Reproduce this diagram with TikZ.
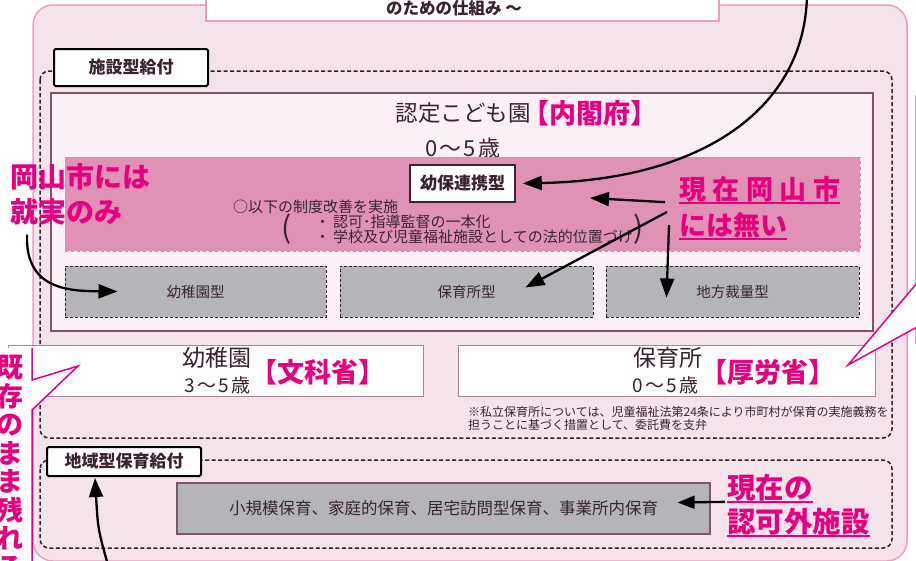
\documentclass[tikz,border=0pt]{standalone}
\usepackage{fontspec}
\setmainfont{Noto Sans CJK JP}
\usetikzlibrary{arrows.meta}

\definecolor{rosa}{HTML}{F39CC3}
\definecolor{rosabg}{HTML}{F5E3EC}
\definecolor{okpink}{HTML}{E6007F}
\definecolor{bandfill}{HTML}{E092B6}
\definecolor{bandline}{HTML}{EE7AAF}
\definecolor{boxgray}{HTML}{B5B5B9}
\definecolor{framedark}{HTML}{2E2228}
\definecolor{plum}{HTML}{7E5468}
\definecolor{innerbg}{HTML}{FBF0F5}
\definecolor{ink}{HTML}{3A2230}

\newcommand{\fsz}[1]{\fontsize{#1}{#1}\selectfont}

\begin{document}
\begin{tikzpicture}
		[x=1pt,y=-1pt,
		 txt/.style={inner sep=0pt,text=ink},
		 pinktxt/.style={inner sep=0pt,text=okpink,font=\bfseries\fsz{27}},
		 tag/.style={draw=black,line width=2pt,fill=white,inner sep=0pt,rounded corners=1.5pt,text=ink,font=\bfseries\fsz{17}},
		 dframe/.style={draw=framedark,line width=1.5pt,dash pattern=on 4pt off 2.5pt,rounded corners=9pt},
		 typ/.style={draw=framedark,line width=1pt,dash pattern=on 3pt off 2pt,fill=boxgray,inner sep=0pt,text=ink,font=\fsz{14.5}},
		 whitebox/.style={draw=plum!70,line width=1pt,fill=white,inner sep=0pt},
		 arr/.style={-{Triangle[length=19pt,width=14pt]},line width=2.3pt,black},
		 uline/.style={okpink,line width=1.8pt}]

		\useasboundingbox (0,0) rectangle (916,560);

		\draw[rosa,line width=1.5pt,fill=rosabg,rounded corners=20pt] (33,5) rectangle (907,561);

		\node[draw=rosa,line width=2pt,fill=white,minimum width=513pt,minimum height=40pt,inner sep=0pt] (titlebox) at (462,1) {};
		\node[txt,font=\bfseries\fsz{16.5},anchor=west] (titletext) at (386,8) {のための仕組み ～};

		\draw[rosa,fill=white,line width=1pt] (915,95) rectangle (940,343);

		\draw[dframe] (40,71) rectangle (892,438);
		\node[tag,minimum width=154pt,minimum height=37pt] (shisetsu) at (131,67.5) {施設型給付};

		\node[draw=plum,line width=1.2pt,fill=innerbg,minimum width=822pt,minimum height=238pt,inner sep=0pt] (nintei) at (462,212) {};
		\node[txt,font=\fsz{22.5},anchor=east] (ninteiname) at (531,113) {認定こども園};
		\node[pinktxt] (naikaku) at (590,113) {【内閣府】};
		\node[txt,font=\fsz{22}] (age05a) at (463,148) {0\kern2pt～\kern2pt5\kern2pt歳};

		\node[draw=bandline,dashed,line width=0.8pt,fill=bandfill,minimum width=795pt,minimum height=94pt,inner sep=0pt] (band) at (462.5,204) {};
		\node[draw=ink,line width=1.6pt,fill=white,minimum width=105pt,minimum height=37pt,inner sep=0pt,text=ink,font=\bfseries\fsz{17}] (renkei) at (462.5,183.5) {幼保連携型};
		\node[txt,font=\fsz{15},anchor=west] (kaizen) at (233,207) {○以下の制度改善を実施};
		\node[txt,font=\fsz{15},anchor=west] (item1) at (315,222) {・\kern3pt 認可･指導監督の一本化};
		\node[txt,font=\fsz{15},anchor=west] (item2) at (315,237) {・\kern3pt 学校及び児童福祉施設としての法的位置づけ};
		\node[txt,font=\fsz{30}] (lparen) at (287,229) {(};
		\node[txt,font=\fsz{30}] (rparen) at (639,229) {)};

		\node[typ,minimum width=261pt,minimum height=51pt] (youchienkata) at (195.5,291.5) {幼稚園型};
		\node[typ,minimum width=253pt,minimum height=51pt] (hoikushokata) at (466.5,291.5) {保育所型};
		\node[typ,minimum width=253pt,minimum height=51pt] (chihoukata) at (732.5,291.5) {地方裁量型};

		\node[whitebox,minimum width=415pt,minimum height=51pt] (youchien) at (215.5,370.5) {};
		\node[txt,font=\fsz{23}] (youchienname) at (217,358) {幼稚園};
		\node[txt,font=\fsz{19}] (age35) at (217.5,385) {3\kern2pt～\kern2pt5\kern2pt歳};
		\node[pinktxt] (monka) at (317.5,372) {【文科省】};

		\node[whitebox,minimum width=417pt,minimum height=51pt] (hoikusho) at (666.5,370.5) {};
		\node[txt,font=\fsz{23}] (hoikushoname) at (667.5,358) {保育所};
		\node[txt,font=\fsz{19}] (age05b) at (665.5,385) {0\kern2pt～\kern2pt5\kern2pt歳};
		\node[pinktxt] (kourou) at (768,372) {【厚労省】};
		\node[txt,font=\fsz{12},anchor=west] (note1) at (468,412) {※私立保育所については、児童福祉法第24条により市町村が保育の実施義務を};
		\node[txt,font=\fsz{12},anchor=west] (note2) at (468,425) {担うことに基づく措置として、委託費を支弁};

		\draw[dframe] (40,460) rectangle (892,548);
		\node[tag,minimum width=154pt,minimum height=29pt] (chiiki) at (124,461.5) {地域型保育給付};
		\node[draw=plum,line width=1.2pt,fill=boxgray,minimum width=533pt,minimum height=51pt,inner sep=0pt,text=ink,font=\fsz{16.5}] (shoukibo) at (443.5,508.5) {小規模保育、家庭的保育、居宅訪問型保育、事業所内保育};

		\fill[white] (-5,348) -- (32,348) -- (32,380) -- (78,366) -- (32,410) -- (32,570) -- (-5,570) -- cycle;
		\draw[okpink,line width=1.5pt] (32,348) -- (32,380) -- (78,366) -- (32,410) -- (32,570);
		\node[pinktxt,font=\bfseries\fontsize{27}{28.5}\selectfont,align=center] (kizon) at (10,467) {既\\存\\の\\ま\\ま\\残\\れ\\る};

		\fill[white] (917,283) -- (848,365) -- (917,327) -- cycle;
		\draw[okpink,line width=1.5pt] (917,283) -- (848,365) -- (917,327);

		\node[pinktxt,font=\bfseries\fsz{28},anchor=west] (okayama1) at (10,177) {岡山市には};
		\node[pinktxt,font=\bfseries\fsz{28},anchor=west] (okayama2) at (10,212) {就実のみ};
		\node[pinktxt,anchor=west] (genzai1) at (679,189) {現\kern6.5pt 在\kern6.5pt 岡\kern6.5pt 山\kern6.5pt 市};
		\node[pinktxt,anchor=west] (genzai2) at (679,225) {には無い};
		\draw[uline] ([yshift=-1pt]genzai1.south west) -- ([yshift=-1pt]genzai1.south east);
		\draw[uline] ([yshift=-1pt]genzai2.south west) -- ([yshift=-1pt]genzai2.south east);
		\node[pinktxt,font=\bfseries\fsz{28.5},anchor=west] (ninkagai1) at (727,488) {現在の};
		\node[pinktxt,font=\bfseries\fsz{28.5},anchor=west] (ninkagai2) at (727,522) {認可外施設};
		\draw[uline] (ninkagai1.south west) -- (ninkagai1.south east);
		\draw[uline] (ninkagai2.south west) -- (ninkagai2.south east);

		\coordinate (fromtop) at (807,-5);
		\coordinate (seido) at (590,198);
		\coordinate (frombottom) at (110,572);

		\draw[arr,shorten >=7pt] (fromtop) .. controls (805,110) and (700,180) .. (renkei.east);
		\draw[arr] ([xshift=-14pt]genzai1.south west) -- (seido);
		\draw[arr] ([xshift=-12pt]genzai2.north west) -- ([xshift=59pt,yshift=4pt]hoikushokata.center);
		\draw[arr] ([xshift=-10pt]genzai2.west) -- ([xshift=-66pt,yshift=-6pt]chihoukata.center);
		\draw[arr] ([xshift=17pt,yshift=-9pt]okayama2.south west) .. controls (25,290) and (70,291) .. ([xshift=53pt]youchienkata.west);
		\draw[arr,-{Triangle[length=17pt,width=13pt]}] ([xshift=-2pt]ninkagai1.south west) -- ([xshift=-33pt,yshift=6pt]shoukibo.east);
		\draw[arr] (frombottom) .. controls (98,530) .. ([xshift=-29pt,yshift=-1pt]chiiki.south);

	\end{tikzpicture}
\end{document}
